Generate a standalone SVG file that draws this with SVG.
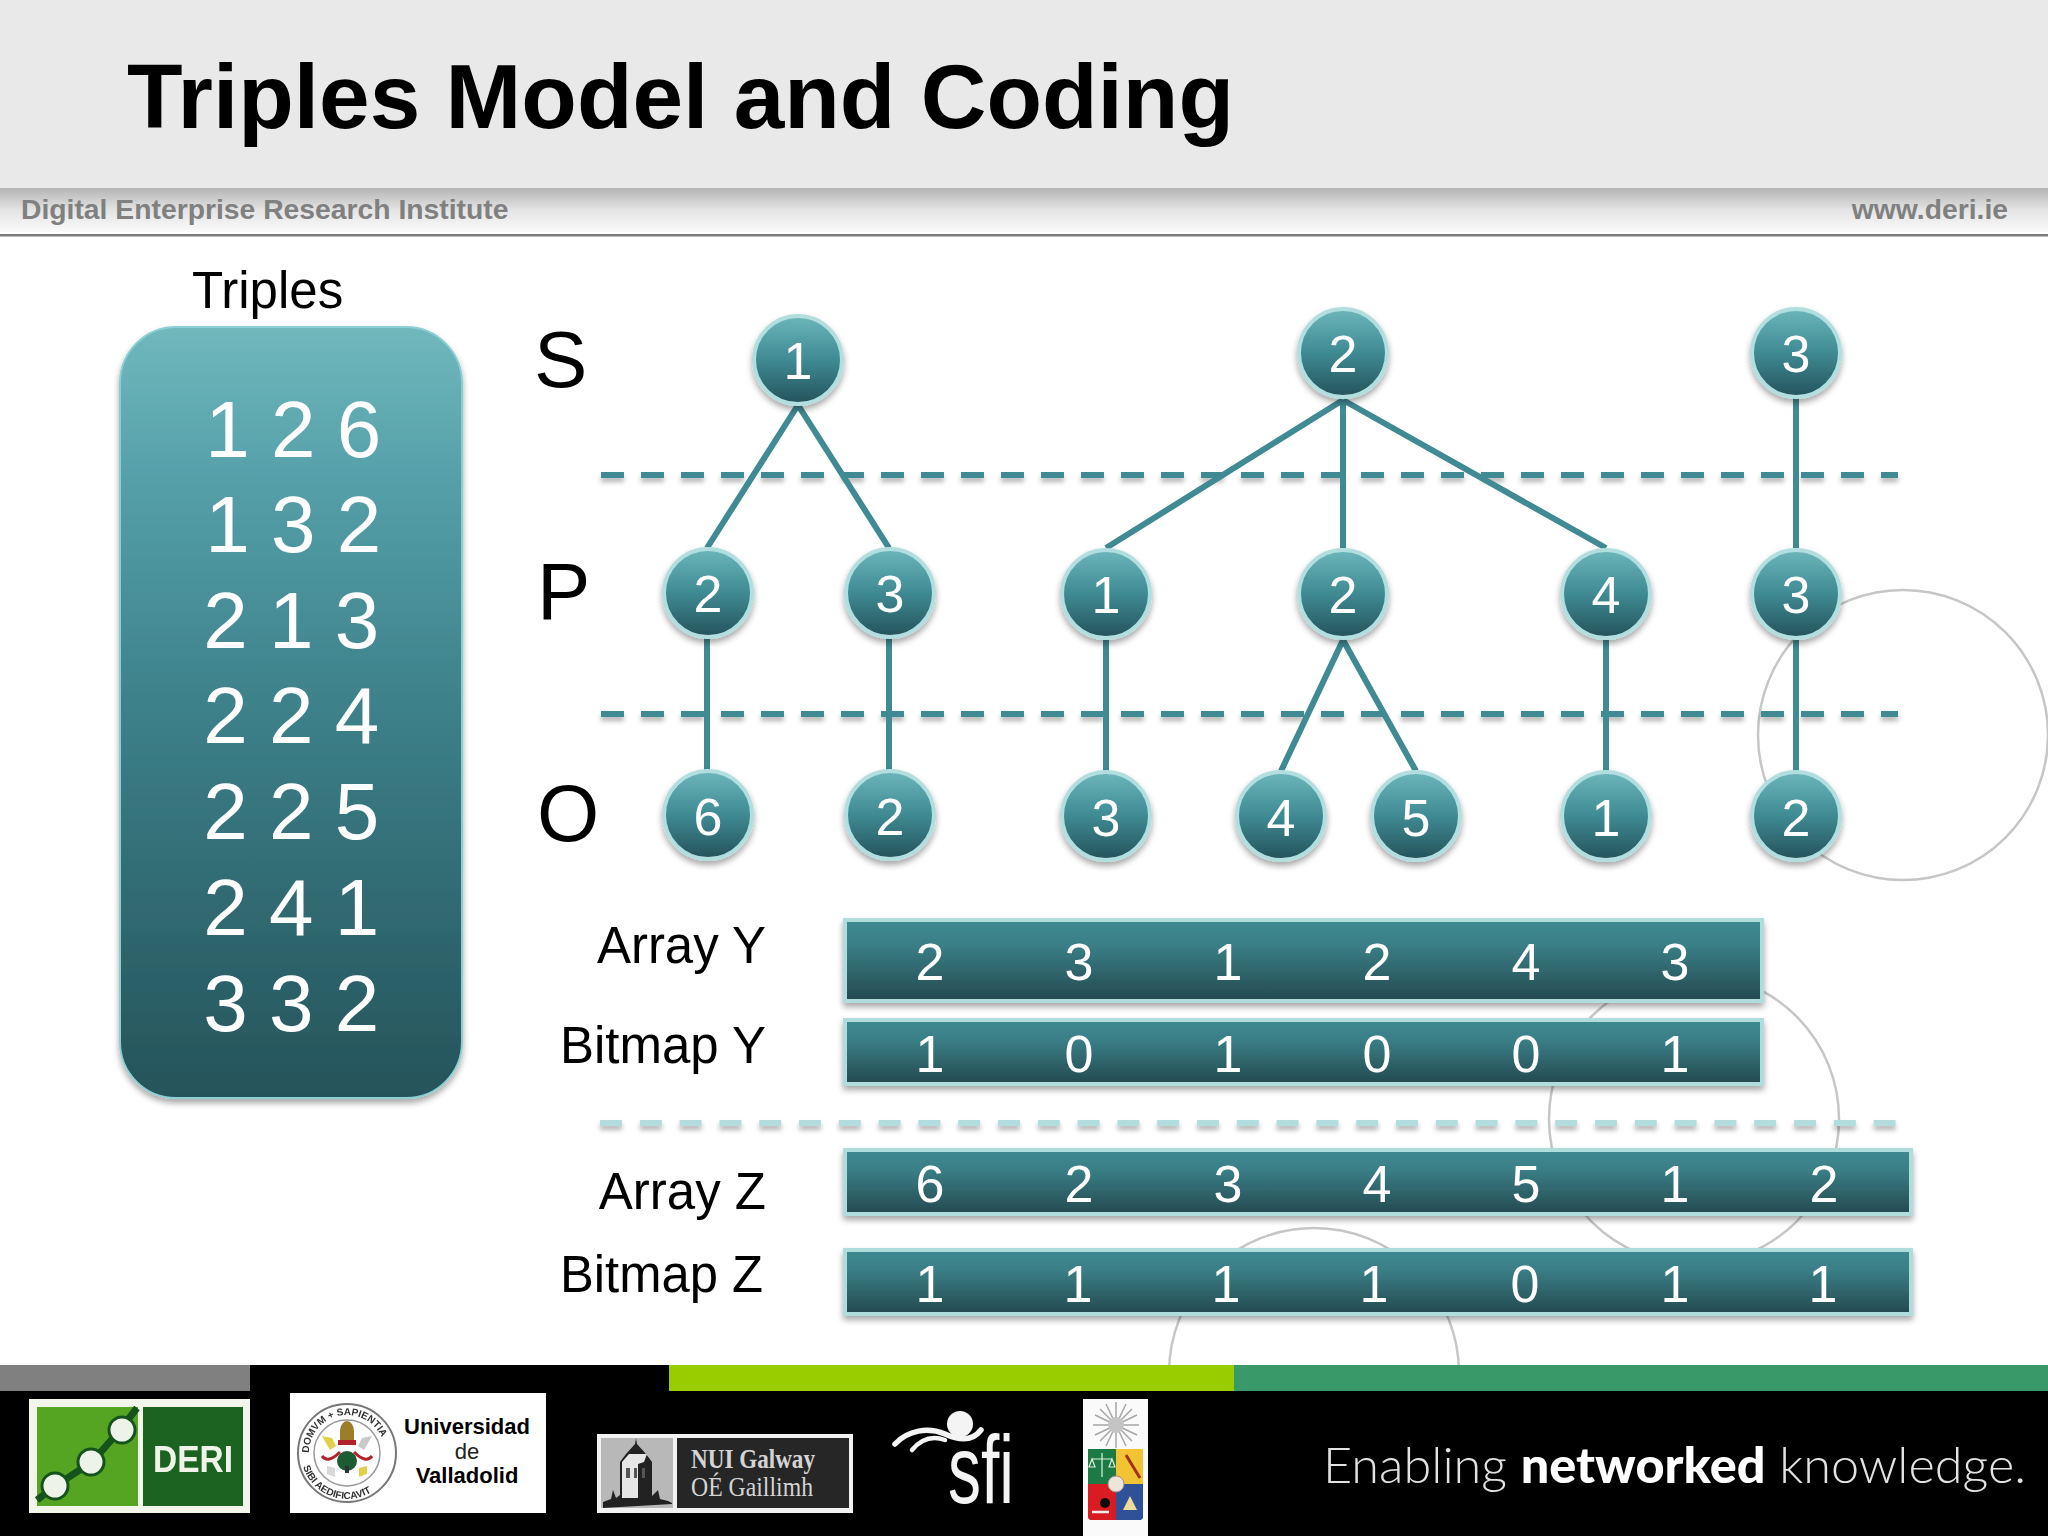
<svg xmlns="http://www.w3.org/2000/svg" width="2048" height="1536" viewBox="0 0 2048 1536">
<style>
text{font-family:"Liberation Sans",Arial,sans-serif}
.lbl{font-size:51px;fill:#000}
.spo{font-size:80px;fill:#000}
.big{font-size:80px;fill:#fff;text-anchor:middle;letter-spacing:-.5px}
.d{font-size:52px;fill:#fff;text-anchor:middle}
.hd{font-size:28.300px;font-weight:bold;fill:#808080}
.node circle{fill:url(#nodeG);stroke:#b3dedf;stroke-width:4;filter:url(#sh)}
.bar{fill:url(#barG);stroke:#b0dcdc;stroke-width:4;filter:url(#sh)}
.edge{stroke:#3f8a93;stroke-width:6;fill:none}
.dash{stroke:#3f8a93;stroke-width:6;stroke-dasharray:23 17;fill:none;filter:url(#shl)}
.dashl{stroke:#b3dcdc;stroke-width:6;stroke-dasharray:22 17.8;fill:none;filter:url(#shl)}
.ring{fill:none;stroke:#c6c6c6;stroke-width:2.5}
.seal{font-size:10px;font-weight:bold;fill:#333}
</style>
<defs>
<linearGradient id="nodeG" x1="0" y1="0" x2="0" y2="1"><stop offset="0" stop-color="#6cb6bb"/><stop offset=".5" stop-color="#3f8a93"/><stop offset="1" stop-color="#24525a"/></linearGradient>
<linearGradient id="barG" x1="0" y1="0" x2="0" y2="1"><stop offset="0" stop-color="#3f8a92"/><stop offset=".3" stop-color="#3a7f87"/><stop offset="1" stop-color="#24494f"/></linearGradient>
<linearGradient id="bigG" x1="0" y1="0" x2="0" y2="1"><stop offset="0" stop-color="#70b8bc"/><stop offset=".2" stop-color="#559fa9"/><stop offset=".5" stop-color="#3c8089"/><stop offset="1" stop-color="#25535a"/></linearGradient>
<linearGradient id="bandG" x1="0" y1="0" x2="0" y2="1"><stop offset="0" stop-color="#b4b4b4"/><stop offset=".5" stop-color="#e4e4e4"/><stop offset="1" stop-color="#fafafa"/></linearGradient>
<filter id="sh" x="-20%" y="-30%" width="140%" height="170%"><feDropShadow dx="0" dy="4" stdDeviation="3" flood-color="#000" flood-opacity=".35"/></filter>
<filter id="shl" filterUnits="userSpaceOnUse" x="560" y="440" width="1400" height="720"><feDropShadow dx="0" dy="4" stdDeviation="2.500" flood-color="#000" flood-opacity=".3"/></filter>
<filter id="soft" x="-5%" y="-5%" width="110%" height="110%"><feGaussianBlur stdDeviation=".7"/></filter>
<path id="sealTop" d="M309 1453a38 38 0 0 1 76 0"/>
<path id="sealBot" d="M301 1453a46 46 0 0 0 92 0"/>
</defs>

<g id="header">
<rect width="2048" height="1536" fill="#fff"/>
<rect width="2048" height="188" fill="#e9e9e9"/>
<rect y="188" width="2048" height="44" fill="url(#bandG)"/>
<rect y="234" width="2048" height="2.500" fill="#7c7c7c"/>
<text x="127" y="128" font-size="90" font-weight="bold" fill="#000" textLength="1107" lengthAdjust="spacingAndGlyphs">Triples Model and Coding</text>
<text class="hd" x="21" y="219">Digital Enterprise Research Institute</text>
<text class="hd" x="2008" y="219" text-anchor="end">www.deri.ie</text>
</g>

<g id="rings">
<circle class="ring" cx="1903" cy="735" r="145"/>
<circle class="ring" cx="1694" cy="1119" r="145"/>
<circle class="ring" cx="1314" cy="1373" r="145"/>
</g>

<g id="triples">
<text class="lbl" x="192" y="308">Triples</text>
<rect x="120" y="327" width="342" height="771" rx="56" fill="url(#bigG)" stroke="#8ccfd2" stroke-width="2" filter="url(#sh)"/>
<text class="big" x="293" y="457">1 2 6</text>
<text class="big" x="293" y="552">1 3 2</text>
<text class="big" x="291" y="648">2 1 3</text>
<text class="big" x="291" y="743">2 2 4</text>
<text class="big" x="291" y="839">2 2 5</text>
<text class="big" x="291" y="935">2 4 1</text>
<text class="big" x="291" y="1031">3 3 2</text>
</g>

<g id="levels">
<text class="spo" x="534" y="387">S</text>
<text class="spo" x="537" y="619">P</text>
<text class="spo" x="537" y="841">O</text>
<path class="dash" d="M601 475H1898"/>
<path class="dash" d="M601 714H1898"/>
<path class="dashl" d="M600 1123H1898"/>
</g>

<g id="connectors">
<path class="edge" d="M798 405L707 548M798 405L889 548"/>
<path class="edge" d="M1343 400L1106 548M1343 400V548M1343 400L1606 548"/>
<path class="edge" d="M1796 398V548"/>
<path class="edge" d="M707 638V771M889 638V771M1106 640V771M1606 640V771M1796 640V771"/>
<path class="edge" d="M1343 640L1281 771M1343 640L1416 771"/>
</g>

<g id="s1" class="node"><circle cx="798" cy="360" r="44"/><text class="d" x="798" y="379">1</text></g>
<g id="s2" class="node"><circle cx="1343" cy="353" r="44"/><text class="d" x="1343" y="372">2</text></g>
<g id="s3" class="node"><circle cx="1796" cy="353" r="44"/><text class="d" x="1796" y="372">3</text></g>
<g id="p1" class="node"><circle cx="708" cy="593" r="44"/><text class="d" x="708" y="612">2</text></g>
<g id="p2" class="node"><circle cx="890" cy="593" r="44"/><text class="d" x="890" y="612">3</text></g>
<g id="p3" class="node"><circle cx="1106" cy="594" r="44"/><text class="d" x="1106" y="613">1</text></g>
<g id="p4" class="node"><circle cx="1343" cy="594" r="44"/><text class="d" x="1343" y="613">2</text></g>
<g id="p5" class="node"><circle cx="1606" cy="594" r="44"/><text class="d" x="1606" y="613">4</text></g>
<g id="p6" class="node"><circle cx="1796" cy="594" r="44"/><text class="d" x="1796" y="613">3</text></g>
<g id="o1" class="node"><circle cx="708" cy="815" r="44"/><text class="d" x="708" y="835">6</text></g>
<g id="o2" class="node"><circle cx="890" cy="815" r="44"/><text class="d" x="890" y="835">2</text></g>
<g id="o3" class="node"><circle cx="1106" cy="816" r="44"/><text class="d" x="1106" y="836">3</text></g>
<g id="o4" class="node"><circle cx="1281" cy="816" r="44"/><text class="d" x="1281" y="836">4</text></g>
<g id="o5" class="node"><circle cx="1416" cy="816" r="44"/><text class="d" x="1416" y="836">5</text></g>
<g id="o6" class="node"><circle cx="1606" cy="816" r="44"/><text class="d" x="1606" y="836">1</text></g>
<g id="o7" class="node"><circle cx="1796" cy="816" r="44"/><text class="d" x="1796" y="836">2</text></g>

<g id="arrayY">
<text class="lbl" x="766" y="963" text-anchor="end">Array Y</text>
<rect class="bar" x="845" y="920" width="917" height="81"/>
<text class="d" x="930" y="980">2</text><text class="d" x="1079" y="980">3</text><text class="d" x="1228" y="980">1</text><text class="d" x="1377" y="980">2</text><text class="d" x="1526" y="980">4</text><text class="d" x="1675" y="980">3</text>
</g>
<g id="bitmapY">
<text class="lbl" x="560" y="1063" textLength="206" lengthAdjust="spacingAndGlyphs">Bitmap Y</text>
<rect class="bar" x="845" y="1020" width="917" height="64"/>
<text class="d" x="930" y="1072">1</text><text class="d" x="1079" y="1072">0</text><text class="d" x="1228" y="1072">1</text><text class="d" x="1377" y="1072">0</text><text class="d" x="1526" y="1072">0</text><text class="d" x="1675" y="1072">1</text>
</g>
<g id="arrayZ">
<text class="lbl" x="766" y="1209" text-anchor="end">Array Z</text>
<rect class="bar" x="845" y="1150" width="1066" height="64"/>
<text class="d" x="930" y="1202">6</text><text class="d" x="1079" y="1202">2</text><text class="d" x="1228" y="1202">3</text><text class="d" x="1377" y="1202">4</text><text class="d" x="1526" y="1202">5</text><text class="d" x="1675" y="1202">1</text><text class="d" x="1824" y="1202">2</text>
</g>
<g id="bitmapZ">
<text class="lbl" x="560" y="1292" textLength="203" lengthAdjust="spacingAndGlyphs">Bitmap Z</text>
<rect class="bar" x="845" y="1250" width="1066" height="64"/>
<text class="d" x="930" y="1302">1</text><text class="d" x="1078" y="1302">1</text><text class="d" x="1226" y="1302">1</text><text class="d" x="1374" y="1302">1</text><text class="d" x="1525" y="1302">0</text><text class="d" x="1675" y="1302">1</text><text class="d" x="1823" y="1302">1</text>
</g>

<g id="footer">
<rect y="1365" width="2048" height="171" fill="#000"/>
<rect y="1365" width="250" height="26" fill="#808080"/>
<rect x="669" y="1365" width="565" height="26" fill="#9acd00"/>
<rect x="1234" y="1365" width="814" height="26" fill="#3a9968"/>
</g>

<g id="logo-deri" filter="url(#soft)">
<rect x="29" y="1399" width="221" height="114" fill="#f2f6ea"/>
<rect x="37" y="1407" width="101" height="99" fill="#55a524"/>
<rect x="143" y="1407" width="100" height="99" fill="#1f6423"/>
<path d="M37 1500L55 1486L92 1462L120 1430L137 1408" fill="none" stroke="#14531a" stroke-width="7"/>
<circle cx="55" cy="1486" r="13" fill="#eef3ea" stroke="#14531a" stroke-width="3"/>
<circle cx="91" cy="1462" r="13" fill="#eef3ea" stroke="#14531a" stroke-width="3"/>
<circle cx="122" cy="1430" r="13" fill="#eef3ea" stroke="#14531a" stroke-width="3"/>
<text x="153" y="1472" font-size="36" font-weight="bold" fill="#eef5e8" textLength="80" lengthAdjust="spacingAndGlyphs">DERI</text>
</g>

<g id="logo-valladolid">
<rect x="290" y="1393" width="256" height="120" fill="#fff"/>
<g filter="url(#soft)">
<circle cx="347" cy="1453" r="49" fill="#fff" stroke="#777" stroke-width="2"/>
<circle cx="347" cy="1453" r="33" fill="#fff" stroke="#999" stroke-width="1.500"/>
<text class="seal"><textPath href="#sealTop" startOffset="0">DOMVM + SAPIENTIA</textPath></text>
<text class="seal"><textPath href="#sealBot" startOffset="14">SIBI  AEDIFICAVIT</textPath></text>
<path d="M340 1431a7 10 0 0 1 14 0v10h-14z" fill="#9c7d2a"/>
<rect x="338" y="1440" width="18" height="5" fill="#b3232b"/>
<path d="M322 1436l10 2 4 8-6 4z" fill="#e2cf4a"/>
<path d="M372 1436l-10 2-4 8 6 4z" fill="#c9c9c9"/>
<path d="M322 1456q6 8 18-4M372 1456q-6 8-18-4" fill="none" stroke="#b3232b" stroke-width="3"/>
<circle cx="347" cy="1461" r="10" fill="#1d5c33"/>
<rect x="345" y="1466" width="4" height="7" fill="#333"/>
<path d="M327 1466l8 2v9l-8-3z" fill="#d9d9d9"/>
<path d="M367 1466l-8 2v9l8-3z" fill="#e2cf4a"/>
</g>
<text x="467" y="1434" font-size="22" font-weight="bold" fill="#000" text-anchor="middle">Universidad</text>
<text x="467" y="1459" font-size="22" fill="#222" text-anchor="middle">de</text>
<text x="467" y="1483" font-size="22" font-weight="bold" fill="#000" text-anchor="middle">Valladolid</text>
</g>

<g id="logo-nui">
<rect x="597" y="1434" width="256" height="79" fill="#f2f2f2"/>
<rect x="601" y="1438" width="72" height="70" fill="#b8b8b8"/>
<rect x="677" y="1438" width="172" height="70" fill="#262626"/>
<g filter="url(#soft)">
<path d="M603 1508v-6l8-3 2-9 3 8 4-3V1462l6-8 9-10 1-6 1 6 9 10 6 8v34l6-6 2 9 8 2 4 2v1z" fill="#222"/>
<path d="M622 1498v-36l7-8h18l-3 8-6 2v34z" fill="#e6e6e6"/>
<path d="M626 1468h4v10h-4zM634 1468h3v10h-3zM642 1468h3v10h-3z" fill="#555"/>
</g>
<text x="691" y="1468" style="font-family:'Liberation Serif',serif" font-size="27" font-weight="bold" fill="#d4d4d4" textLength="124" lengthAdjust="spacingAndGlyphs">NUI Galway</text>
<text x="691" y="1496" style="font-family:'Liberation Serif',serif" font-size="27" fill="#d4d4d4" textLength="122" lengthAdjust="spacingAndGlyphs">OÉ Gaillimh</text>
</g>

<g id="logo-sfi">
<circle cx="960" cy="1424" r="13" fill="#f4f4f4"/>
<path d="M895 1444C908 1430 928 1427 945 1434C958 1440 972 1442 981 1430" fill="none" stroke="#f4f4f4" stroke-width="5.500" stroke-linecap="round"/>
<path d="M912 1450C922 1438 934 1436 945 1440" fill="none" stroke="#f4f4f4" stroke-width="4.500" stroke-linecap="round"/>
<text x="948" y="1503" font-size="96" fill="#f4f4f4" textLength="66" lengthAdjust="spacingAndGlyphs">sfi</text>
</g>

<g id="logo-crest">
<rect x="1083" y="1399" width="65" height="137" fill="#fafafa"/>
<g filter="url(#soft)">
<path d="M1116 1402V1448M1093 1425H1139M1100 1409L1132 1441M1100 1441L1132 1409M1106 1404L1126 1446M1126 1404L1106 1446M1095 1415L1137 1435M1095 1435L1137 1415" stroke="#a6a6a6" stroke-width="1.500"/>
<circle cx="1116" cy="1425" r="8" fill="#c4c4c4"/>
<path d="M1088 1449h28v35h-28z" fill="#1f7a44"/>
<path d="M1116 1449h27v35h-27z" fill="#f2c332"/>
<path d="M1088 1484h28v36h-26l-2-2z" fill="#d81f22"/>
<path d="M1116 1484h27v34l-2 2h-25z" fill="#2d5198"/>
<path d="M1102 1453v24M1092 1459h20M1092 1459l-3 8h6zM1112 1459l-3 8h6z" stroke="#dfeee0" stroke-width="1.200" fill="none"/>
<path d="M1126 1455L1140 1478" stroke="#a3331f" stroke-width="3"/>
<circle cx="1105" cy="1503" r="5" fill="#111"/>
<path d="M1092 1512h17" stroke="#eee" stroke-width="2.500"/>
<path d="M1123 1510l7-14 7 14z" fill="#f2dc9a"/>
<circle cx="1116" cy="1484" r="8" fill="#ece6da" stroke="#a88" stroke-width="1"/>
</g>
</g>

<g id="tagline">
<text x="1323" y="1483" style="font-family:Lato,'Liberation Sans',sans-serif" font-size="50" font-weight="300" fill="#e2e2e2" textLength="703" lengthAdjust="spacingAndGlyphs">Enabling <tspan font-weight="900" fill="#fff">networked</tspan> knowledge.</text>
</g>
</svg>
